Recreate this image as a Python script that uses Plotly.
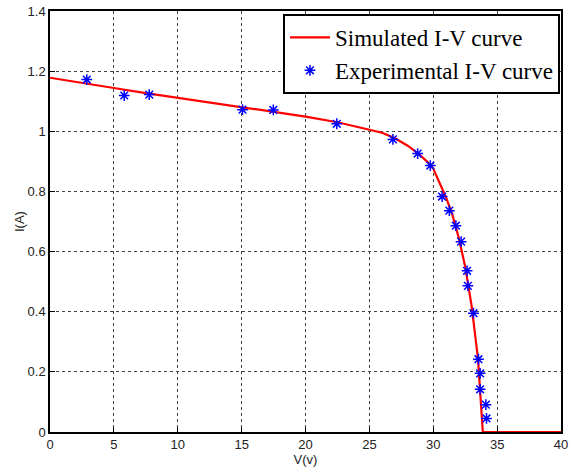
import plotly.graph_objects as go

# Simulated I-V curve
sim_v = [0, 2.5, 5, 7.5, 10, 12.5, 15, 17.5, 20, 22.5, 25, 26, 27, 28, 28.8, 29.5,
         30, 30.5, 31, 31.5, 32, 32.5, 33, 33.5, 33.88, 40]
sim_i = [1.178, 1.162, 1.144, 1.127, 1.111, 1.096, 1.080, 1.064, 1.049, 1.030, 1.006,
         0.995, 0.977, 0.952, 0.927, 0.900, 0.876, 0.825, 0.780, 0.722, 0.645, 0.550,
         0.420, 0.245, 0.0, 0.0]

# Experimental I-V points
exp_v = [2.88, 5.81, 7.77, 15.07, 17.48, 22.45, 26.84, 28.78, 29.77, 30.69, 31.26,
         31.77, 32.18, 32.65, 32.71, 33.15, 33.54, 33.67, 33.67, 34.12, 34.17]
exp_i = [1.172, 1.119, 1.122, 1.072, 1.071, 1.025, 0.973, 0.926, 0.886, 0.783, 0.736,
         0.686, 0.633, 0.536, 0.486, 0.395, 0.242, 0.195, 0.142, 0.091, 0.045]

x_ticks = [0, 5, 10, 15, 20, 25, 30, 35, 40]
y_ticks = [0, 0.2, 0.4, 0.6, 0.8, 1, 1.2, 1.4]
y_labels = ["0", "0.2", "0.4", "0.6", "0.8", "1", "1.2", "1.4"]

fig = go.Figure()
fig.add_trace(go.Scatter(x=sim_v, y=sim_i, mode="lines", name="Simulated I-V curve",
                         line=dict(color="#ff0000", width=2.2)))
fig.add_trace(go.Scatter(x=exp_v, y=exp_i, mode="markers", name="Experimental I-V curve",
                         marker=dict(symbol="asterisk-open", size=9, color="#0000ff",
                                     line=dict(color="#0000ff", width=1.5))))

tick_font = dict(family="Liberation Sans, Arial", size=13, color="#222")
axis_common = dict(showline=True, linecolor="black", linewidth=1.5, mirror=True,
                   ticks="inside", ticklen=5, tickcolor="black",
                   showgrid=True, gridcolor="#444", griddash="dot", gridwidth=1,
                   zeroline=False, automargin=False, tickfont=tick_font)

fig.update_xaxes(range=[0, 40], tickvals=x_ticks,
                 title=dict(text="V(v)", font=tick_font, standoff=2),
                 **axis_common)
fig.update_yaxes(range=[0, 1.4], tickvals=y_ticks, ticktext=y_labels,
                 title=dict(text="I(A)", font=tick_font, standoff=0),
                 **axis_common)

fig.update_layout(
    width=569, height=473,
    margin=dict(l=50, r=8, t=11, b=41, autoexpand=False),
    plot_bgcolor="white", paper_bgcolor="white",
    legend=dict(x=0.998, y=0.993, xanchor="right", yanchor="top",
                bgcolor="white", bordercolor="black", borderwidth=2,
                font=dict(family="Liberation Serif, Times New Roman", size=23, color="black"),
                itemwidth=40, tracegroupgap=0),
    showlegend=True,
)

fig.write_html("out.html", config={"displayModeBar": False},
               post_script="document.body.style.margin='0';document.body.style.overflow='hidden';")
